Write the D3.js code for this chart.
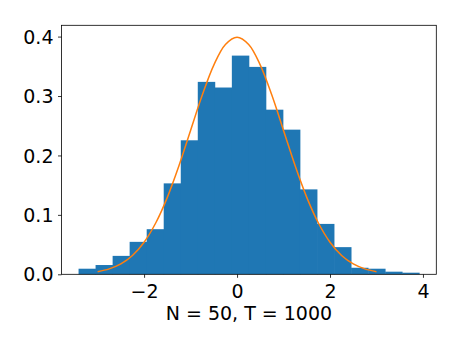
<!DOCTYPE html>
<html>
<head>
<meta charset="utf-8">
<script src="https://cdn.jsdelivr.net/npm/d3@7"></script>
<style>
  body { margin: 0; background: #fff; }
  text { font-family: "DejaVu Sans", sans-serif; }
</style>
</head>
<body>
<div id="chart"></div>
<script>
// histogram bin edges (20 bins) and density heights
var binEdges = [-3.41, -3.044, -2.677, -2.311, -1.944, -1.578, -1.211, -0.845, -0.478, -0.112,
                0.255, 0.621, 0.988, 1.354, 1.721, 2.087, 2.454, 2.820, 3.187, 3.553, 3.92];
var density = [0.0094, 0.0156, 0.031, 0.0546, 0.0759, 0.153, 0.2255, 0.3238, 0.3143, 0.368,
               0.349, 0.277, 0.2434, 0.1429, 0.0848, 0.0457, 0.011, 0.0094, 0.0044, 0.0027];

// orange curve (normal density)
var curveX = [-3, -2.75, -2.5, -2.25, -2, -1.75, -1.5, -1.25, -1, -0.75, -0.5, -0.25, 0,
              0.25, 0.5, 0.75, 1, 1.25, 1.5, 1.75, 2, 2.25, 2.5, 2.75, 3];
var curveY = [0.0044, 0.0091, 0.0175, 0.0317, 0.054, 0.0863, 0.1295, 0.1826, 0.242, 0.3011, 0.3521, 0.3867, 0.3989,
              0.3867, 0.3521, 0.3011, 0.242, 0.1826, 0.1295, 0.0863, 0.054, 0.0317, 0.0175, 0.0091, 0.0044];

var xTicks = [-2, 0, 2, 4];
var yTicks = [0, 0.1, 0.2, 0.3, 0.4];
var xLabel = "N = 50, T = 1000";

var W = 460, H = 345;
var margin = { top: 25.3, right: 23.7, bottom: 70.7, left: 61.5 };
var width = W - margin.left - margin.right,
    height = H - margin.top - margin.bottom;
var fontSize = 19;

var svg = d3.select("#chart").append("svg")
  .attr("width", W)
  .attr("height", H)
  .append("g")
  .attr("transform", "translate(" + margin.left + "," + margin.top + ")");

var x = d3.scaleLinear().domain([-3.777, 4.287]).range([0, width]);
var y = d3.scaleLinear().domain([0, 0.419]).range([height, 0]);

// bars
svg.selectAll("rect.bar")
  .data(density)
  .enter()
  .append("rect")
  .attr("class", "bar")
  .attr("x", function(d, i) { return x(binEdges[i]); })
  .attr("width", function(d, i) { return x(binEdges[i + 1]) - x(binEdges[i]) + 0.4; })
  .attr("y", function(d) { return y(d); })
  .attr("height", function(d) { return height - y(d); })
  .attr("fill", "#1f77b4");

// pdf line
var pts = curveX.map(function(v, i) { return [v, curveY[i]]; });
var line = d3.line()
  .x(function(d) { return x(d[0]); })
  .y(function(d) { return y(d[1]); })
  .curve(d3.curveCatmullRom);

svg.append("path")
  .datum(pts)
  .attr("d", line)
  .attr("fill", "none")
  .attr("stroke", "#ff7f0e")
  .attr("stroke-width", 1.5);

// axes
var xAxis = svg.append("g")
  .attr("transform", "translate(0," + height + ")")
  .call(d3.axisBottom(x).tickValues(xTicks).tickSize(3.5).tickPadding(3.5).tickSizeOuter(0));
xAxis.selectAll("text").attr("y", 24).attr("dy", null);

var yAxis = svg.append("g")
  .call(d3.axisLeft(y).tickValues(yTicks).tickSize(3.5).tickPadding(4.5).tickSizeOuter(0)
    .tickFormat(d3.format(".1f")));
yAxis.selectAll("text").attr("dy", "0.35em");

svg.selectAll(".domain").remove();
svg.selectAll(".tick line").attr("stroke", "#000").attr("stroke-width", 0.8);
svg.selectAll(".tick text").attr("font-size", fontSize).attr("fill", "#000")
  .style("font-family", "'DejaVu Sans', sans-serif");

// frame
svg.append("rect")
  .attr("x", 0).attr("y", 0)
  .attr("width", width).attr("height", height)
  .attr("fill", "none")
  .attr("stroke", "#000")
  .attr("stroke-width", 0.8);

svg.append("text")
  .attr("x", width / 2)
  .attr("y", height + 46)
  .attr("text-anchor", "middle")
  .attr("font-size", fontSize)
  .text(xLabel);
</script>
</body>
</html>
